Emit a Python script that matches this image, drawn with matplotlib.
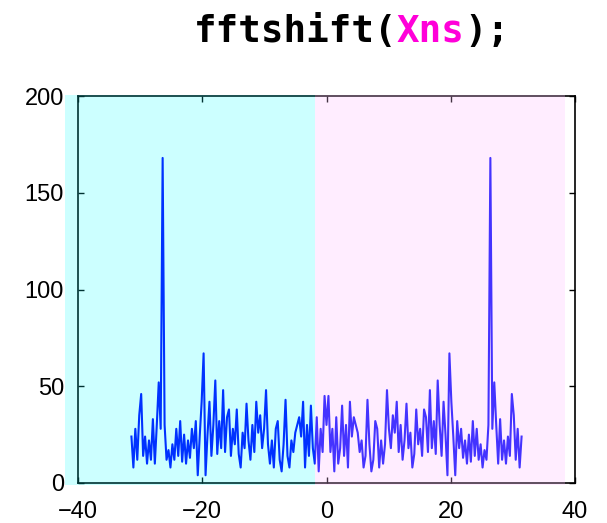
import numpy as np
import matplotlib.pyplot as plt
from matplotlib.patches import Rectangle

# |fftshift(Xns)|: negative-frequency half (from -10*pi up to just below 0),
# the DC bin, and the positive half is the mirror image (real signal -> symmetric magnitude)
mag_neg = [24, 8, 28, 12, 35, 46, 14, 24, 10, 22,
           12, 33, 10, 30, 52, 28, 168, 30, 12, 17,
           8, 20, 12, 28, 14, 32, 11, 25, 10, 22,
           13, 28, 18, 32, 4, 24, 42, 67, 4, 25,
           42, 14, 30, 53, 15, 32, 18, 48, 16, 34,
           38, 14, 28, 20, 38, 15, 8, 26, 18, 41,
           22, 12, 30, 16, 42, 26, 35, 18, 28, 48,
           20, 10, 22, 8, 28, 32, 12, 6, 20, 43,
           14, 8, 22, 16, 26, 30, 34, 24, 42, 8,
           30, 14, 40, 18, 10, 34, 6, 28, 16, 45]
mag_dc = 30
mag = mag_neg + [mag_dc] + mag_neg[::-1]

w_max = 31.4  # frequency axis runs from -w_max to w_max
w = np.linspace(-w_max, w_max, len(mag))

xticks = [-40, -20, 0, 20, 40]
yticks = [0, 50, 100, 150, 200]

plt.rcParams['font.family'] = ['Liberation Sans', 'DejaVu Sans']

fig = plt.figure(figsize=(6.07, 5.23), dpi=100)
ax = fig.add_axes([0.1285, 0.0765, 0.8188, 0.7399])

ax.plot(w, mag, color=(0, 0, 1), lw=1.5)

ax.set_xlim(-40, 40)
ax.set_ylim(0, 200)
ax.set_xticks(xticks)
ax.set_yticks(yticks)
ax.tick_params(direction='in', top=True, right=True, length=4, width=1, labelsize=17)
ax.tick_params(axis='x', pad=13)
ax.tick_params(axis='y', pad=10)
for s in ax.spines.values():
    s.set_linewidth(1.2)

# translucent shading laid over the plot (tints the line and the frame too)
ax.add_patch(Rectangle((-42.1, -1), 40.25, 201.5, facecolor=(0, 1, 1), alpha=0.2,
                       lw=0, zorder=3, clip_on=False))
ax.add_patch(Rectangle((-1.85, -1), 40.25, 201.5, facecolor=(1, 0.75, 1), alpha=0.27,
                       lw=0, zorder=3, clip_on=False))

# title in code style, 'Xns' highlighted
fs = 27
adv = 0.602 * fs * fig.dpi / 72 / (fig.get_figwidth() * fig.dpi)
x0, y0 = 0.319, 0.92
pieces = [("fftshift(", 'black'), ("Xns", (1, 0, 0.85)), (");", 'black')]
n = 0
for txt, col in pieces:
    fig.text(x0 + n * adv, y0, txt, ha='left', va='baseline', fontsize=fs,
             family='DejaVu Sans Mono', fontweight='bold', color=col)
    n += len(txt)

fig.savefig('out.png', dpi=100)
